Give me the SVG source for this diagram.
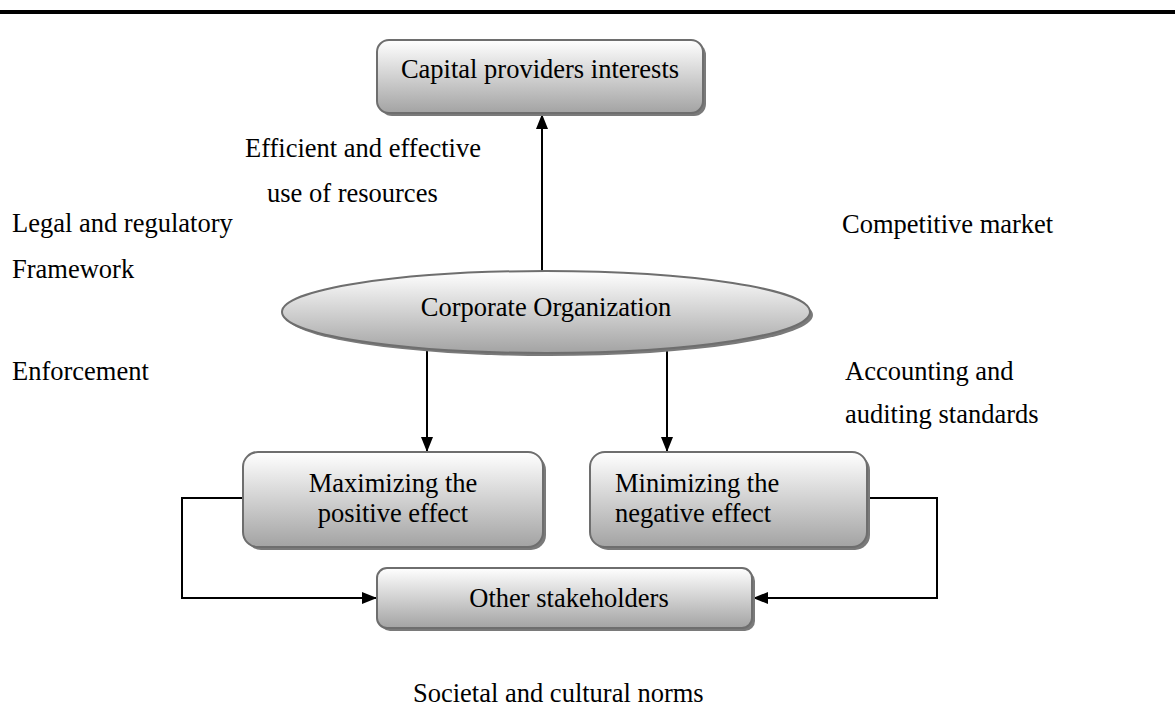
<svg xmlns="http://www.w3.org/2000/svg" width="1175" height="709" viewBox="0 0 1175 709">
<style>
text{font-family:"Liberation Serif","Times New Roman",serif;font-size:26.5px;fill:#000}
.c{text-anchor:middle}
.node{fill:url(#g);stroke:#6e6e6e;stroke-width:2}
.sh{fill:#7a7a7a}
.ln{fill:none;stroke:#000;stroke-width:2}
</style>
<defs>
<linearGradient id="g" x1="0" y1="0" x2="0" y2="1">
<stop offset="0" stop-color="#ffffff"/>
<stop offset="1" stop-color="#a3a3a3"/>
</linearGradient>
<marker id="ah" viewBox="0 0 15 12" refX="15" refY="6" markerWidth="15" markerHeight="12" markerUnits="userSpaceOnUse" orient="auto">
<path d="M0,0 L15,6 L0,12 Z" fill="#000"/>
</marker>
</defs>
<rect x="0" y="10" width="1175" height="4" fill="#000"/>
<g id="connectors">
<line class="ln" x1="542" y1="272" x2="542" y2="114" marker-end="url(#ah)"/>
<line class="ln" x1="427" y1="350" x2="427" y2="452" marker-end="url(#ah)"/>
<line class="ln" x1="667" y1="350" x2="667" y2="452" marker-end="url(#ah)"/>
<polyline class="ln" points="243,498 182,498 182,598 377,598" marker-end="url(#ah)"/>
<polyline class="ln" points="867,498 937,498 937,598 753,598" marker-end="url(#ah)"/>
</g>
<g id="capital">
<rect class="sh" x="380" y="43" width="326" height="73" rx="12"/>
<rect class="node" x="377" y="40" width="326" height="73" rx="12"/>
<text class="c" x="540" y="78">Capital providers interests</text>
</g>
<g id="corporate">
<ellipse class="sh" cx="549" cy="315" rx="264" ry="41"/>
<ellipse class="node" cx="546" cy="312" rx="264" ry="41"/>
<text class="c" x="546" y="316">Corporate Organization</text>
</g>
<g id="maximizing">
<rect class="sh" x="246" y="455" width="300" height="95" rx="15"/>
<rect class="node" x="243" y="452" width="300" height="95" rx="15"/>
<text class="c" x="393" y="492">Maximizing the</text>
<text class="c" x="393" y="522">positive effect</text>
</g>
<g id="minimizing">
<rect class="sh" x="593" y="455" width="277" height="95" rx="15"/>
<rect class="node" x="590" y="452" width="277" height="95" rx="15"/>
<text x="615" y="492">Minimizing the</text>
<text x="615" y="522">negative effect</text>
</g>
<g id="stakeholders">
<rect class="sh" x="380" y="571" width="375" height="60" rx="10"/>
<rect class="node" x="377" y="568" width="375" height="60" rx="10"/>
<text class="c" x="569" y="607">Other stakeholders</text>
</g>
<g id="labels">
<text x="245" y="157">Efficient and effective</text>
<text x="267" y="202">use of resources</text>
<text x="12" y="232">Legal and regulatory</text>
<text x="12" y="278">Framework</text>
<text x="842" y="233">Competitive market</text>
<text x="12" y="380">Enforcement</text>
<text x="845" y="380">Accounting and</text>
<text x="845" y="423">auditing standards</text>
<text x="413" y="702">Societal and cultural norms</text>
</g>
</svg>
